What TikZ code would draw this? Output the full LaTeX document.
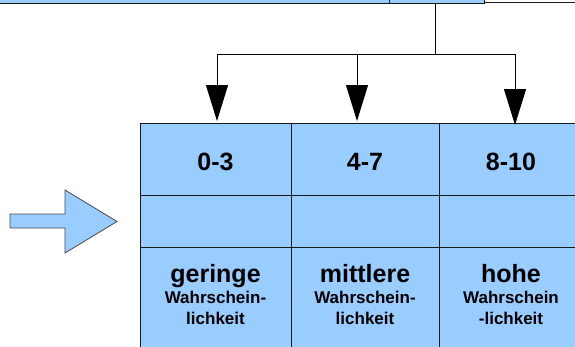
\documentclass[tikz,border=0pt]{standalone}
\usepackage{fontspec}
\setmainfont{Liberation Sans}
\usetikzlibrary{arrows.meta}
\definecolor{cellblue}{HTML}{99CCFF}
\definecolor{edge}{HTML}{1A1A1A}
\begin{document}
\begin{tikzpicture}[x=1pt,y=-1pt,
  cell/.style={draw=edge,line width=1pt,fill=cellblue},
  big/.style={font=\fontsize{25}{28}\selectfont\bfseries,anchor=base,inner sep=0pt},
  small/.style={font=\fontsize{17}{21}\selectfont\bfseries,anchor=base,inner sep=0pt},
  conn/.style={draw=black,line width=1pt},
  head/.style={conn,-{Triangle[width=22pt,length=36pt]}}]
\useasboundingbox (0,0) rectangle (575,346);
\clip (0,0) rectangle (575,346);
% top band
\draw[cell] (-5,-10) rectangle (389,3);
\draw[cell] (389,-10) rectangle (484,3);
\draw[draw=edge,line width=1pt,fill=white] (484,-10) rectangle (590,2.5);
% table cells
\foreach \xa/\xb/\n in {140/291/a,291/439/b,439/588/c}{
  \draw[cell] (\xa,123) rectangle (\xb,195);
  \draw[cell] (\xa,195) rectangle (\xb,247);
  \draw[cell] (\xa,247) rectangle (\xb,360);
}
\coordinate (src) at (435,4);
\coordinate (join) at (435,54);
\coordinate (jl) at (217,54);
\coordinate (jm) at (357,54);
\coordinate (jr) at (515,54);
\coordinate (tl) at (217,121);
\coordinate (tm) at (357,121);
\coordinate (tr) at (515,125);
\draw[conn] (src) -- (join);
\draw[conn] (jl) -- (jr);
\draw[head] (jl) -- (tl);
\draw[head] (jm) -- (tm);
\draw[head] (jr) -- (tr);
% block arrow
\draw[draw=edge!80,line width=0.8pt,fill=cellblue,line join=miter]
  (10,214) -- (65,214) -- (65,190) -- (117,221.5) -- (65,253) -- (65,228) -- (10,228) -- cycle;
% texts
\node[big] (r1) at (215.5,170) {0-3};
\node[big] (r2) at (365,170) {4-7};
\node[big] (r3) at (511,170) {8-10};
\node[big] (g1) at (215.5,282) {geringe};
\node[big] (g2) at (365,282) {mittlere};
\node[big] (g3) at (511,282) {hohe};
\node[small] (w1) at (215.5,303) {Wahrschein-};
\node[small] (w2) at (365,303) {Wahrschein-};
\node[small] (w3) at (511,303) {Wahrschein};
\node[small] (l1) at (215.5,324) {lichkeit};
\node[small] (l2) at (365,324) {lichkeit};
\node[small] (l3) at (511,324) {-lichkeit};
\end{tikzpicture}
\end{document}
